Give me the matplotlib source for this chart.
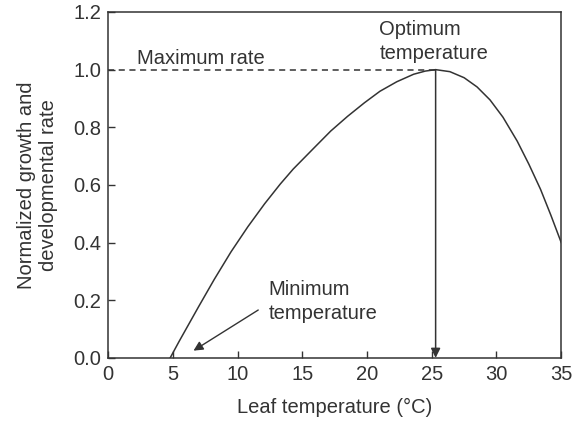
import matplotlib
matplotlib.use("Agg")
import matplotlib.pyplot as plt

plt.rcParams['font.family'] = ['Liberation Sans', 'DejaVu Sans']

# curve
temp = [4.8, 5.5, 7.0, 8.2, 9.5, 10.8, 12.1, 13.3, 14.3, 15.9, 17.2, 18.5, 19.8, 21.0,
        22.3, 23.6, 24.5, 25.3, 26.4, 27.5, 28.5, 29.5, 30.5, 31.6, 32.5, 33.4, 34.2, 35.0]
rate = [0.0, 0.058, 0.178, 0.272, 0.368, 0.455, 0.535, 0.603, 0.655, 0.728, 0.787, 0.838, 0.885, 0.925,
        0.958, 0.984, 0.995, 1.0, 0.993, 0.972, 0.94, 0.895, 0.835, 0.752, 0.672, 0.585, 0.495, 0.40]

t_opt = 25.3
max_rate = 1.0

xticks = [0, 5, 10, 15, 20, 25, 30, 35]
yticks = [0.0, 0.2, 0.4, 0.6, 0.8, 1.0, 1.2]

col = '#333333'
fs = 14.5

fig = plt.figure(figsize=(5.84, 4.21), dpi=100)
ax = fig.add_axes([0.185, 0.150, 0.776, 0.8215])

ax.plot(temp, rate, color=col, lw=1.1)
ax.plot([0, t_opt], [max_rate, max_rate], color=col, lw=1.1, ls=(0, (4, 3)))
ax.annotate('', xy=(t_opt, 0.0), xytext=(t_opt, max_rate),
            arrowprops=dict(arrowstyle='-|>', color=col, lw=1.1, mutation_scale=14,
                            shrinkA=0, shrinkB=0))
ax.annotate('', xy=(6.6, 0.025), xytext=(11.6, 0.166),
            arrowprops=dict(arrowstyle='-|>', color=col, lw=1.0, mutation_scale=14,
                            shrinkA=0, shrinkB=0))

ax.text(2.2, 1.005, 'Maximum rate', fontsize=fs, color=col, va='bottom')
ax.text(20.95, 1.022, 'Optimum\ntemperature', fontsize=fs, color=col, ha='left',
        va='bottom', linespacing=1.35)
ax.text(12.4, 0.122, 'Minimum\ntemperature', fontsize=fs, color=col, va='bottom',
        linespacing=1.3)

ax.set_xlim(0, 35)
ax.set_ylim(0, 1.2)
ax.set_xticks(xticks)
ax.set_yticks(yticks)
ax.set_yticklabels(['%.1f' % v for v in yticks])
ax.tick_params(direction='in', length=5, width=1, colors=col, labelsize=fs, pad=5)
for s in ax.spines.values():
    s.set_color(col)
    s.set_linewidth(1.1)

ax.set_xlabel('Leaf temperature (°C)', fontsize=fs, color=col, labelpad=10)
ax.set_ylabel('Normalized growth and\ndevelopmental rate', fontsize=fs, color=col,
              labelpad=11, linespacing=1.2)

plt.savefig('out.png', dpi=100)
